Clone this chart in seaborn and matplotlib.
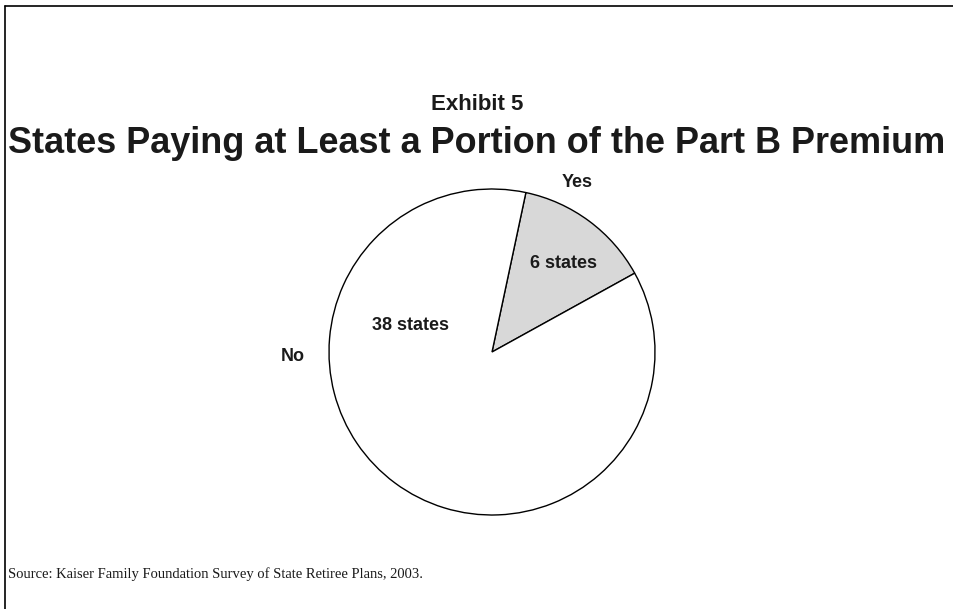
import matplotlib
matplotlib.use("Agg")
import matplotlib.pyplot as plt
from matplotlib import font_manager
from matplotlib.lines import Line2D
import seaborn as sns

# Survey results
categories = ["Yes", "No"]
state_counts = [6, 38]
slice_labels = ["6 states", "38 states"]
exhibit = "Exhibit 5"
title = "States Paying at Least a Portion of the Part B Premium"
source = "Source: Kaiser Family Foundation Survey of State Retiree Plans, 2003."

sns.set_theme(style="white")
available = {f.name for f in font_manager.fontManager.ttflist}
narrow = "Liberation Sans Narrow" if "Liberation Sans Narrow" in available else "Liberation Sans"
plt.rcParams["font.family"] = ["Liberation Sans", "DejaVu Sans"]

W, H = 954, 609
fig = plt.figure(figsize=(W / 100, H / 100), dpi=100)
fig.patch.set_facecolor("white")

# frame lines (top and left)
fig.add_artist(Line2D([5 / W, 1.0], [1 - 6 / H, 1 - 6 / H], color="black", lw=1.2))
fig.add_artist(Line2D([5 / W, 5 / W], [0.0, 1 - 6 / H], color="black", lw=1.2))

# pie axes placed by pixel centre and radius
cx, cy, r = 492, 352, 163
ax = fig.add_axes([(cx - r) / W, (H - cy - r) / H, 2 * r / W, 2 * r / H])
colors = ["#d8d8d8", "white"]
wedges, _ = ax.pie(state_counts, colors=colors, startangle=78, counterclock=False,
                   wedgeprops=dict(edgecolor="black", linewidth=1.0, clip_on=False))
ax.set_xlim(-1.0, 1.0)
ax.set_ylim(-1.0, 1.0)
ax.set_aspect("equal")
ax.axis("off")

lab_font = dict(fontfamily=narrow, fontweight="bold", fontsize=13, color="#1a1a1a",
                ha="center", va="center")
ax.text(0.52, 1.04, categories[0], **lab_font)
ax.text(-1.22, -0.03, categories[1], **lab_font)
ax.text(0.44, 0.54, slice_labels[0], **lab_font)
ax.text(-0.50, 0.16, slice_labels[1], **lab_font)

# titles
fig.text(477 / W, 1 - 104 / H, exhibit, ha="center", va="center",
         fontsize=16, fontweight="bold", color="#1a1a1a")
t = fig.text(477 / W, 1 - 144 / H, title, ha="center", va="center",
             fontsize=24, fontweight="bold", color="#1a1a1a")
fig.canvas.draw()
renderer = fig.canvas.get_renderer()
w = t.get_window_extent(renderer).width
t.set_fontsize(24 * 938 / w)

fig.text(8 / W, 1 - 574 / H, source, ha="left", va="center",
         fontsize=10.5, fontfamily="Liberation Serif", color="#1a1a1a")

fig.savefig("out.png", dpi=100, facecolor="white")
